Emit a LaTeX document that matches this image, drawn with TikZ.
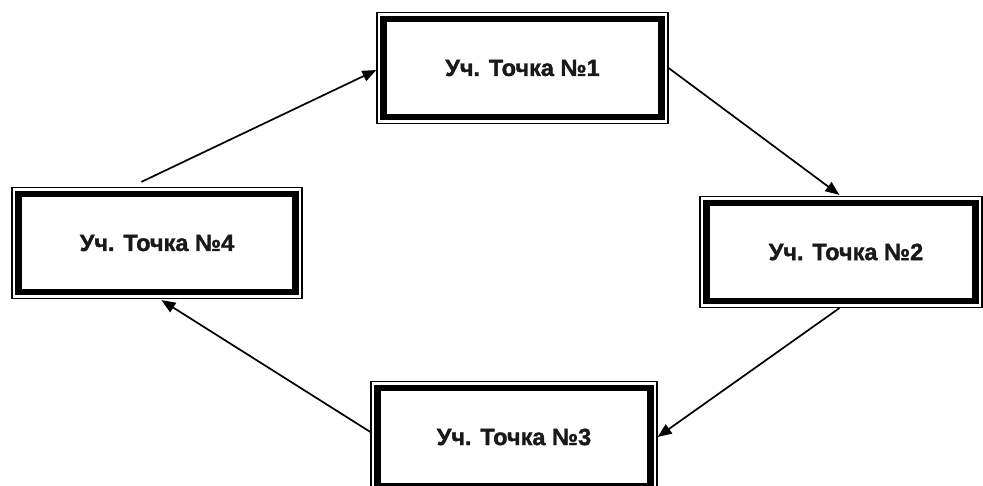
\documentclass[tikz,border=0pt]{standalone}
\usepackage{fontspec}
\setmainfont{Liberation Sans}[BoldFeatures={FakeBold=1.5}]
\usetikzlibrary{arrows.meta,calc}
\begin{document}
\begin{tikzpicture}[x=1pt,y=-1pt,
  pbox/.style={draw=black, line width=1.2pt, minimum width=#1, minimum height=111pt,
    inner sep=0pt, font=\bfseries\fontsize{23.5}{27}\selectfont, text=black!90,
    path picture={\draw[line width=6.5pt]
      ([shift={(6.5,6.5)}]path picture bounding box.north west) rectangle
      ([shift={(-6.5,-6.5)}]path picture bounding box.south east);}},
  arr/.style={line width=1.7pt, -{Triangle[length=14pt,width=11pt]}}]
\clip (0,0) rectangle (983,486);
\fill[white] (0,0) rectangle (983,486);
\node[pbox=291pt] (b1) at (522.5,68) {\raisebox{-3pt}{Уч. Точка №1}};
\node[pbox=282pt] (b2) at (841,252) {\hspace*{10pt}\raisebox{-2pt}{Уч. Точка №2}};
\node[pbox=286pt] (b3) at (514,437) {\raisebox{-1pt}{Уч. Точка №3}};
\node[pbox=290pt] (b4) at (157,243) {\raisebox{-3pt}{Уч. Точка №4}};
\draw[arr] ($(b4.north west)+(130,-5)$) -- ($(b1.west)+(0,2)$);
\draw[arr] (b1.east) -- ($(b2.north west)+(140,-1)$);
\draw[arr] ($(b2.south west)+(140,0)$) -- (b3.east);
\draw[arr] ($(b3.west)+(0,-5)$) -- ($(b4.south west)+(150,1)$);
\end{tikzpicture}
\end{document}
